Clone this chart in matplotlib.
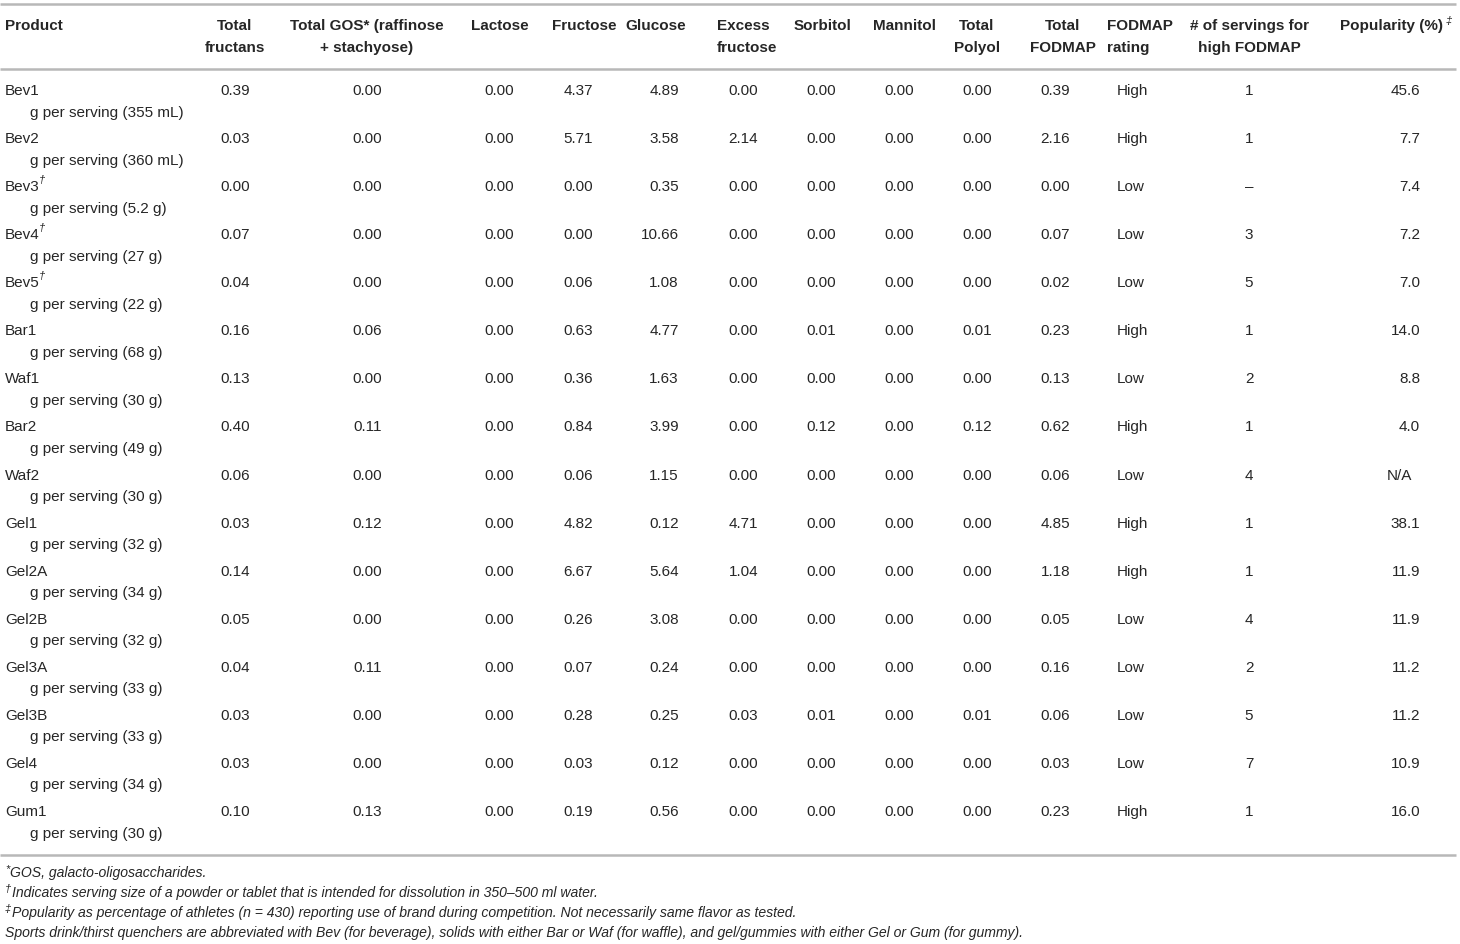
import matplotlib
matplotlib.use("Agg")
import matplotlib.pyplot as plt

plt.rcParams['font.family'] = ['Liberation Sans', 'DejaVu Sans']

# Table data
products = ["Bev1", "Bev2", "Bev3", "Bev4", "Bev5", "Bar1", "Waf1", "Bar2", "Waf2",
            "Gel1", "Gel2A", "Gel2B", "Gel3A", "Gel3B", "Gel4", "Gum1"]
dagger = [False, False, True, True, True] + [False] * 11
servings = ["355 mL", "360 mL", "5.2 g", "27 g", "22 g", "68 g", "30 g", "49 g", "30 g",
            "32 g", "34 g", "32 g", "33 g", "33 g", "34 g", "30 g"]
fructans = [0.39, 0.03, 0.00, 0.07, 0.04, 0.16, 0.13, 0.40, 0.06, 0.03, 0.14, 0.05, 0.04, 0.03, 0.03, 0.10]
gos = [0.00, 0.00, 0.00, 0.00, 0.00, 0.06, 0.00, 0.11, 0.00, 0.12, 0.00, 0.00, 0.11, 0.00, 0.00, 0.13]
lactose = [0.00] * 16
fructose = [4.37, 5.71, 0.00, 0.00, 0.06, 0.63, 0.36, 0.84, 0.06, 4.82, 6.67, 0.26, 0.07, 0.28, 0.03, 0.19]
glucose = [4.89, 3.58, 0.35, 10.66, 1.08, 4.77, 1.63, 3.99, 1.15, 0.12, 5.64, 3.08, 0.24, 0.25, 0.12, 0.56]
excess_fructose = [0.00, 2.14, 0.00, 0.00, 0.00, 0.00, 0.00, 0.00, 0.00, 4.71, 1.04, 0.00, 0.00, 0.03, 0.00, 0.00]
sorbitol = [0.00, 0.00, 0.00, 0.00, 0.00, 0.01, 0.00, 0.12, 0.00, 0.00, 0.00, 0.00, 0.00, 0.01, 0.00, 0.00]
mannitol = [0.00] * 16
total_polyol = [0.00, 0.00, 0.00, 0.00, 0.00, 0.01, 0.00, 0.12, 0.00, 0.00, 0.00, 0.00, 0.00, 0.01, 0.00, 0.00]
total_fodmap = [0.39, 2.16, 0.00, 0.07, 0.02, 0.23, 0.13, 0.62, 0.06, 4.85, 1.18, 0.05, 0.16, 0.06, 0.03, 0.23]
rating = ["High", "High", "Low", "Low", "Low", "High", "Low", "High", "Low",
          "High", "High", "Low", "Low", "Low", "Low", "High"]
n_servings = ["1", "1", "\u2013", "3", "5", "1", "2", "1", "4", "1", "1", "4", "2", "5", "7", "1"]
popularity = ["45.6", "7.7", "7.4", "7.2", "7.0", "14.0", "8.8", "4.0", "N/A",
              "38.1", "11.9", "11.9", "11.2", "11.2", "10.9", "16.0"]

footnotes = [
    ("*", "GOS, galacto-oligosaccharides."),
    ("\u2020", "Indicates serving size of a powder or tablet that is intended for dissolution in 350\u2013500 ml water."),
    ("\u2021", "Popularity as percentage of athletes (n = 430) reporting use of brand during competition. Not necessarily same flavor as tested."),
    ("", "Sports drink/thirst quenchers are abbreviated with Bev (for beverage), solids with either Bar or Waf (for waffle), and gel/gummies with either Gel or Gum (for gummy)."),
]

W, H = 1460, 944
fig = plt.figure(figsize=(W / 100, H / 100), dpi=100)
ax = fig.add_axes([0, 0, 1, 1])
ax.set_xlim(0, W)
ax.set_ylim(H, 0)
ax.axis("off")

FS = 11
col = "#262626"
line_col = "#b8b8b8"

# horizontal rules
for yy in (4, 69, 855):
    ax.plot([0, 1456], [yy, yy], color=line_col, lw=1.8, solid_capstyle="butt")

# headers: (text, x, ha)
headers = [
    ("Product", 5, "left"),
    ("Total\nfructans", 235, "center"),
    ("Total GOS* (raffinose\n+ stachyose)", 367, "center"),
    ("Lactose", 500, "center"),
    ("Fructose", 584, "center"),
    ("Glucose", 656, "center"),
    ("Excess\nfructose", 717, "left"),
    ("Sorbitol", 823, "center"),
    ("Mannitol", 904, "center"),
    ("Total\nPolyol", 977, "center"),
    ("Total\nFODMAP", 1063, "center"),
    ("FODMAP\nrating", 1107, "left"),
    ("# of servings for\nhigh FODMAP", 1249, "center"),
    ("Popularity (%)", 1392, "center"),
]
for txt, x, ha in headers:
    ax.text(x, 19, txt, ha=ha, va="top", fontsize=FS, fontweight="bold",
            color=col, linespacing=1.75, multialignment=ha)
ax.text(1446, 16, "\u2021", ha="left", va="top", fontsize=8, color=col, style="italic")

# numeric columns, right aligned
num_cols = [(fructans, 250), (gos, 382), (lactose, 514), (fructose, 593), (glucose, 679),
            (excess_fructose, 758), (sorbitol, 836), (mannitol, 914), (total_polyol, 992),
            (total_fodmap, 1070)]

fig.canvas.draw()
renderer = fig.canvas.get_renderer()

row0, step = 91, 48.07
for i, name in enumerate(products):
    y = row0 + i * step
    t = ax.text(5, y, name, ha="left", va="center", fontsize=FS, color=col)
    if dagger[i]:
        bb = t.get_window_extent(renderer=renderer)
        xr = ax.transData.inverted().transform((bb.x1, bb.y1))[0]
        ax.text(xr - 1, y - 7, "\u2020", ha="left", va="center", fontsize=8,
                color=col, style="italic")
    ax.text(30, y + 21.5, "g per serving (" + servings[i] + ")", ha="left", va="center",
            fontsize=FS, color=col)
    for vals, xr in num_cols:
        ax.text(xr, y, f"{vals[i]:.2f}", ha="right", va="center", fontsize=FS, color=col)
    ax.text(1117, y, rating[i], ha="left", va="center", fontsize=FS, color=col)
    ax.text(1249, y, n_servings[i], ha="center", va="center", fontsize=FS, color=col)
    if popularity[i] == "N/A":
        ax.text(1399, y, popularity[i], ha="center", va="center", fontsize=FS, color=col)
    else:
        ax.text(1420, y, popularity[i], ha="right", va="center", fontsize=FS, color=col)

# footnotes
fy = [873, 893, 913, 933]
for (mark, txt), y in zip(footnotes, fy):
    x = 5
    if mark:
        m = ax.text(x, y - 4, mark, ha="left", va="center", fontsize=8, color=col, style="italic")
        bb = m.get_window_extent(renderer=renderer)
        x = ax.transData.inverted().transform((bb.x1, bb.y1))[0] + 1
    ax.text(x, y, txt, ha="left", va="center", fontsize=10.1, color=col, style="italic")

fig.savefig("out.png", dpi=100)
